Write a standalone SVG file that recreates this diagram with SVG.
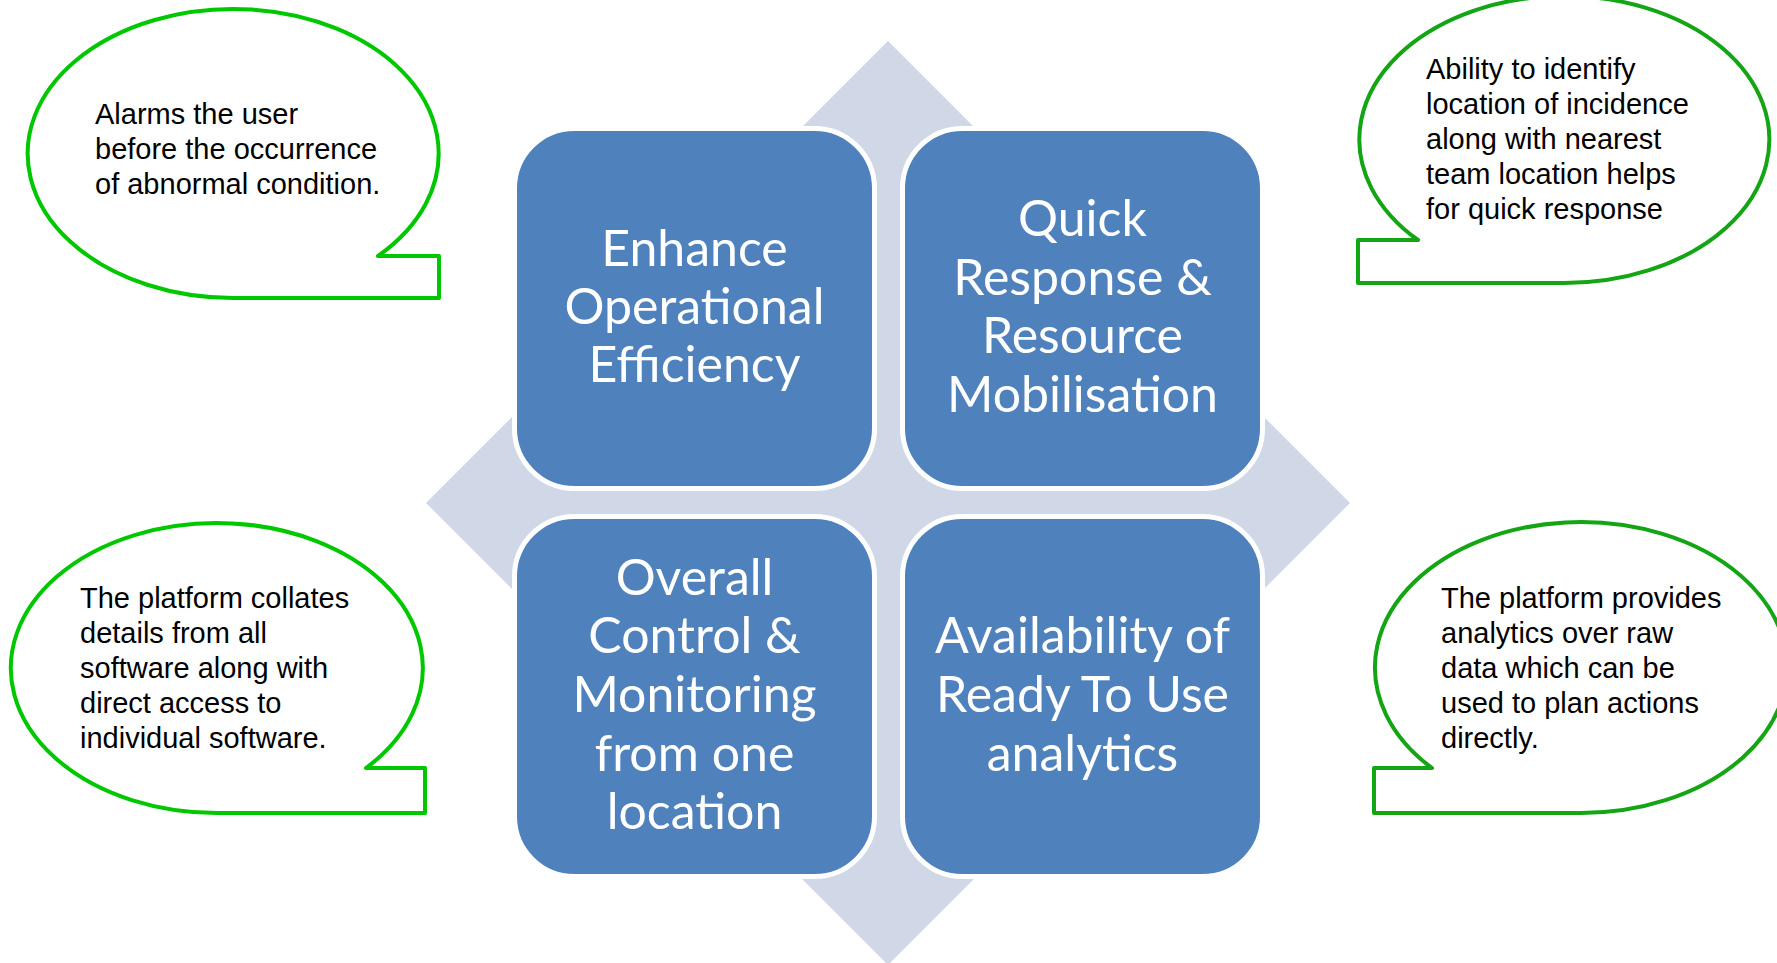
<svg xmlns="http://www.w3.org/2000/svg" width="1777" height="963" viewBox="0 0 1777 963">
<style>
.box{fill:#4F81BD;stroke:#FFFFFF;stroke-width:5}
.bt{font-family:Lato,"Open Sans",sans-serif;font-size:50px;fill:#FFFFFF;text-anchor:middle}
.call{fill:#FFFFFF;stroke-width:4;stroke-linejoin:round}
.g1{stroke:#00C800}
.g2{stroke:#14A514}
.ct{font-family:"Liberation Sans",Arial,sans-serif;font-size:29px;fill:#000000}
</style>
<rect width="1777" height="963" fill="#FFFFFF"/>
<g id="diamond">
<polygon points="888,41 1350,503 888,965 426,503" fill="#D0D8E8"/>
</g>
<g id="box-enhance">
<rect class="box" x="514.5" y="128.5" width="360" height="360" rx="60"/>
<text class="bt"><tspan x="694.5" y="266">Enhance</tspan><tspan x="694.5" y="324">Operational</tspan><tspan x="694.5" y="382">Efficiency</tspan></text>
</g>
<g id="box-quick">
<rect class="box" x="902.5" y="128.5" width="360" height="360" rx="60"/>
<text class="bt"><tspan x="1082.5" y="236">Quick</tspan><tspan x="1082.5" y="295">Response &amp;</tspan><tspan x="1082.5" y="353">Resource</tspan><tspan x="1082.5" y="412">Mobilisation</tspan></text>
</g>
<g id="box-overall">
<rect class="box" x="514.5" y="516.5" width="360" height="360" rx="60"/>
<text class="bt"><tspan x="694.5" y="595">Overall</tspan><tspan x="694.5" y="653">Control &amp;</tspan><tspan x="694.5" y="712">Monitoring</tspan><tspan x="694.5" y="771">from one</tspan><tspan x="694.5" y="829">location</tspan></text>
</g>
<g id="box-analytics">
<rect class="box" x="902.5" y="516.5" width="360" height="360" rx="60"/>
<text class="bt"><tspan x="1082.5" y="653">Availability of</tspan><tspan x="1082.5" y="712">Ready To Use</tspan><tspan x="1082.5" y="771">analytics</tspan></text>
</g>
<g id="callout-tl">
<path class="call g1" d="M378,256 L439,256 L439,298 L233.5,298 A205.5,144.5 0 1 1 378,256 Z"/>
<text class="ct"><tspan x="95" y="124">Alarms the user</tspan><tspan x="95" y="159">before the occurrence</tspan><tspan x="95" y="194">of abnormal condition.</tspan></text>
</g>
<g id="callout-tr">
<path class="call g2" d="M1418,240 L1358,240 L1358,283 L1563,283 A205,143.5 0 1 0 1418,240 Z"/>
<text class="ct"><tspan x="1426" y="79">Ability to identify</tspan><tspan x="1426" y="114">location of incidence</tspan><tspan x="1426" y="149">along with nearest</tspan><tspan x="1426" y="184">team location helps</tspan><tspan x="1426" y="219">for quick response</tspan></text>
</g>
<g id="callout-bl">
<path class="call g1" d="M366,768 L425,768 L425,813 L219,813 A206,145 0 1 1 366,768 Z"/>
<text class="ct"><tspan x="80" y="608">The platform collates</tspan><tspan x="80" y="643">details from all</tspan><tspan x="80" y="678">software along with</tspan><tspan x="80" y="713">direct access to</tspan><tspan x="80" y="748">individual software.</tspan></text>
</g>
<g id="callout-br">
<path class="call g2" d="M1432,768 L1374,768 L1374,813 L1580,813 A206,145.5 0 1 0 1432,768 Z"/>
<text class="ct"><tspan x="1441" y="608">The platform provides</tspan><tspan x="1441" y="643">analytics over raw</tspan><tspan x="1441" y="678">data which can be</tspan><tspan x="1441" y="713">used to plan actions</tspan><tspan x="1441" y="748">directly.</tspan></text>
</g>
<g id="connectors"></g>
</svg>
